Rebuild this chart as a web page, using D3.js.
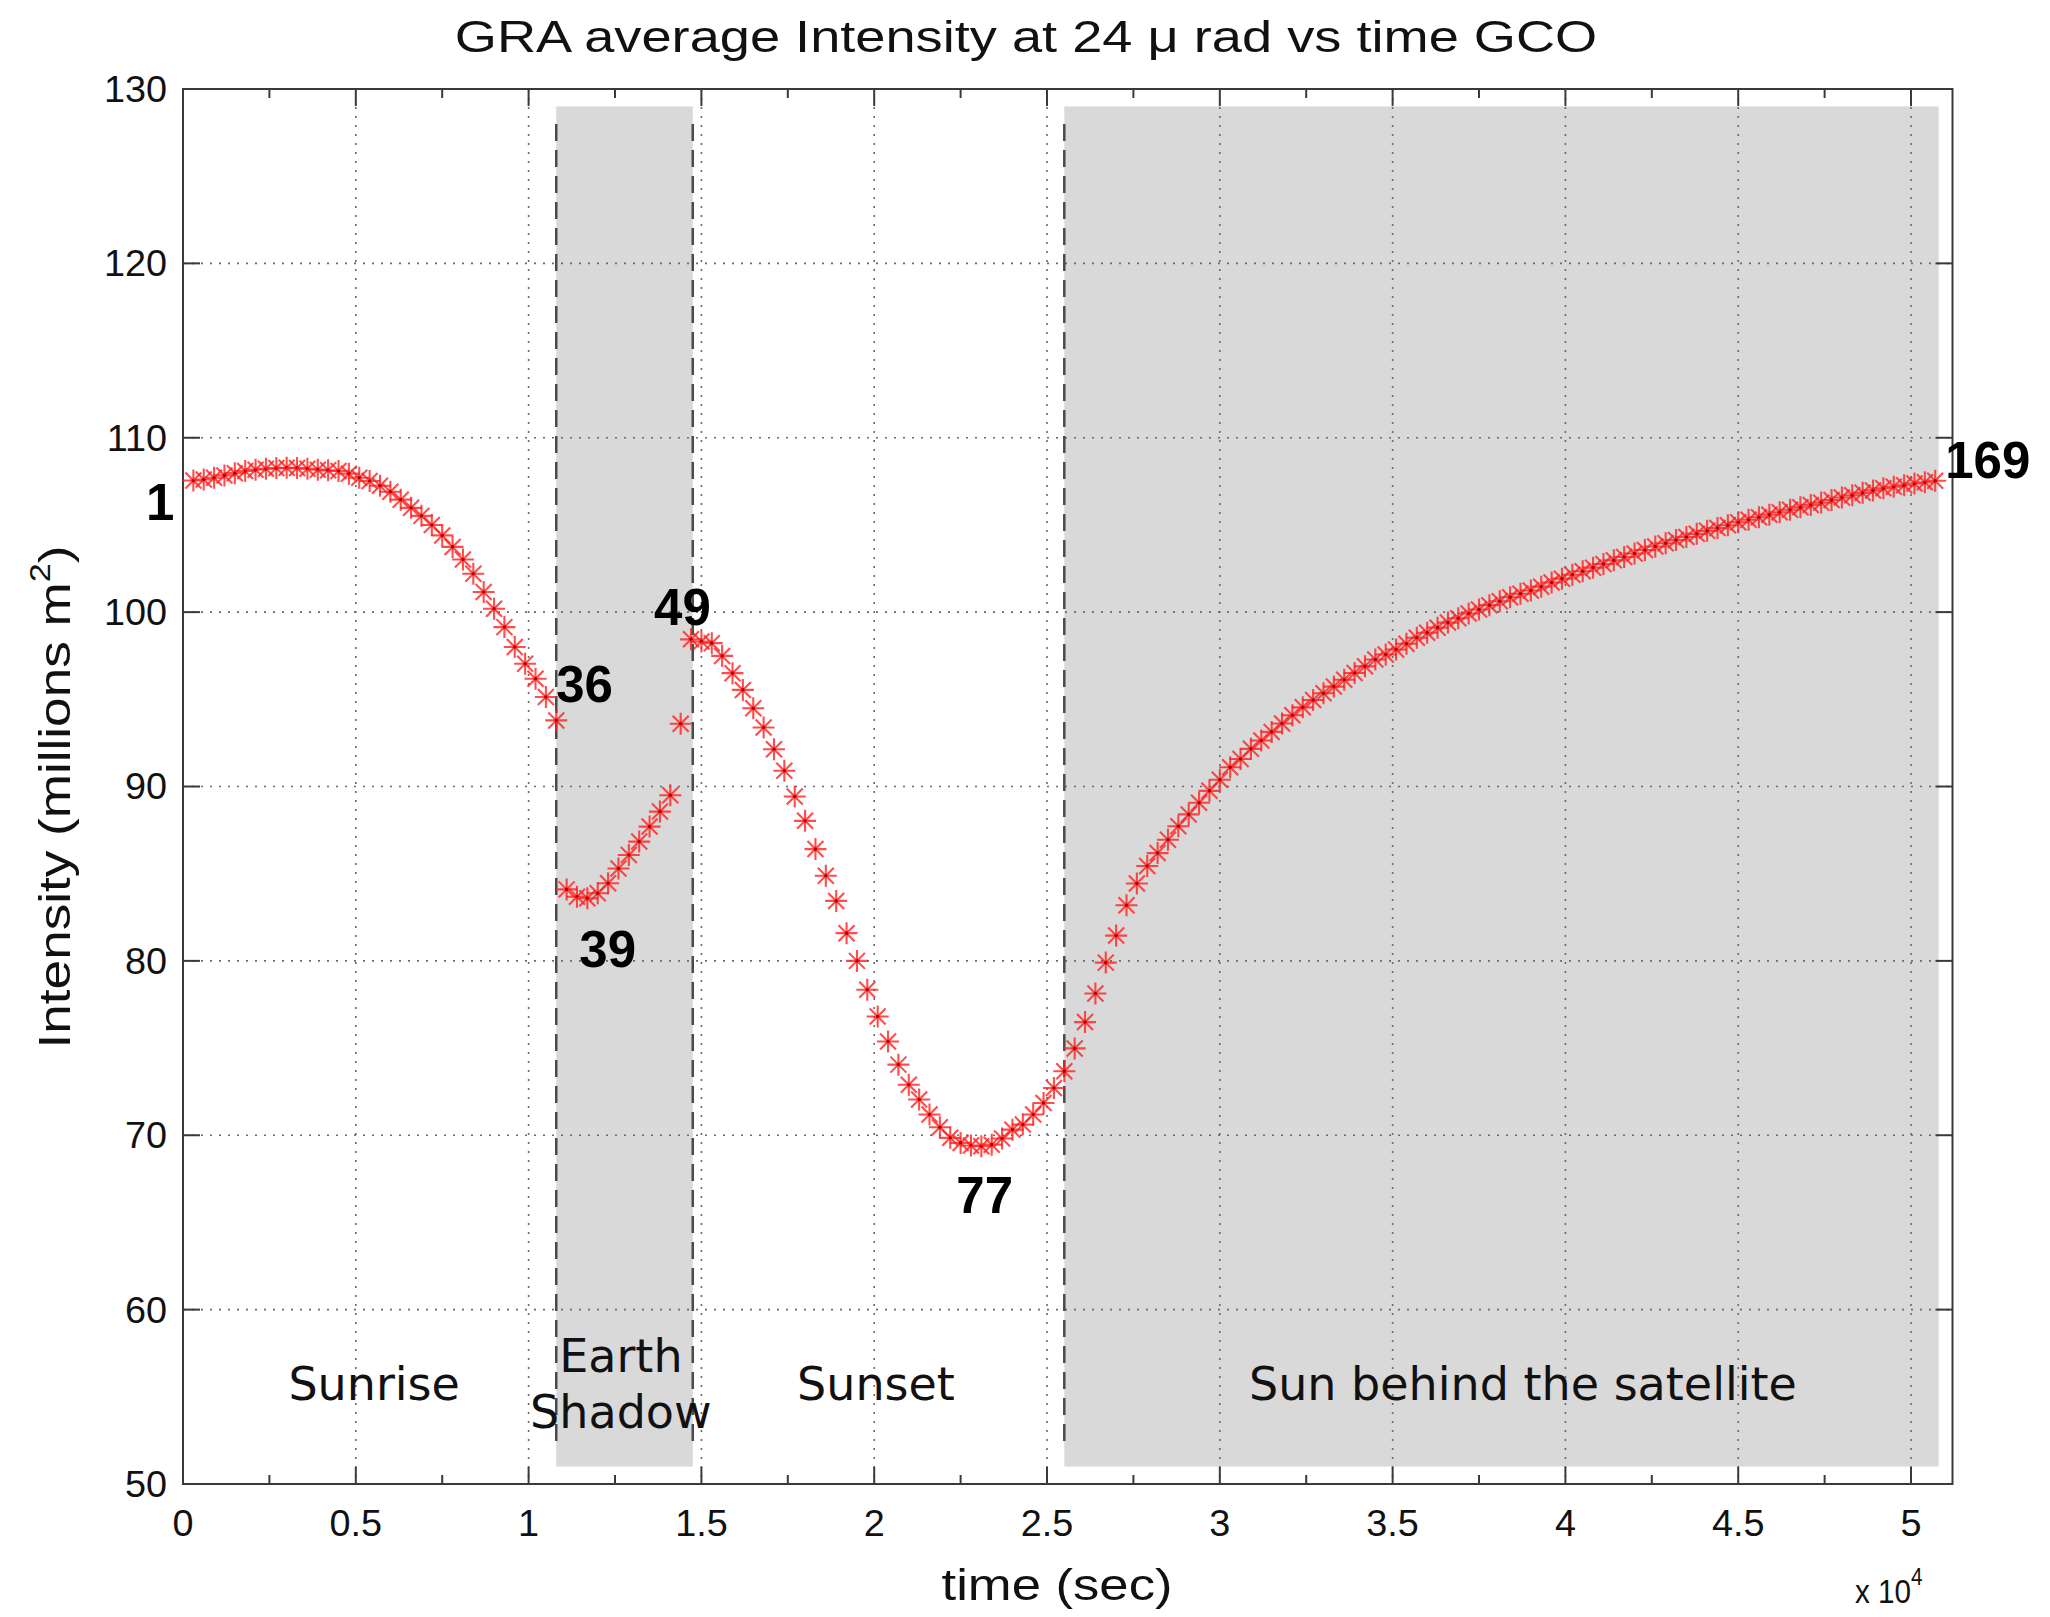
<!DOCTYPE html>
<meta charset="utf-8">
<style>
body { margin: 0; background: #fff; }
svg { display: block; }
.grid line { stroke: #6a6a6a; stroke-width: 1.6; stroke-dasharray: 2,7; }
.tick-label { font-family: "Liberation Sans", Arial, sans-serif; font-size: 36px; fill: #111; }
.region { font-family: "DejaVu Sans", Verdana, sans-serif; font-size: 46px; fill: #111; text-anchor: middle; }
.callout { font-family: "Liberation Sans", Arial, sans-serif; font-size: 51px; font-weight: bold; fill: #000; }
</style>
<body>
<script src="https://d3js.org/d3.v7.min.js"></script>
<script>

// sample spacing (s) and GRA intensity for samples 1..169 (millions m^2)
var dt = 300;
var intensity = [
  107.55, 107.61, 107.71, 107.84, 107.97, 108.09, 108.17, 108.22, 108.26, 108.28,
  108.26, 108.22, 108.17, 108.13, 108.09, 107.94, 107.71, 107.52, 107.25, 106.90,
  106.45, 105.98, 105.52, 105.00, 104.40, 103.74, 103.02, 102.20, 101.15, 100.19,
  99.14, 98.00, 97.04, 96.18, 95.13, 93.79,
  84.10, 83.68, 83.59, 83.88, 84.45, 85.30, 86.07, 86.84, 87.70, 88.56, 89.50, 93.60, 98.44,
  98.31, 98.22, 97.49, 96.50, 95.54, 94.49, 93.38, 92.14, 90.90, 89.43,
  88.03, 86.41, 84.88, 83.44, 81.59, 80.00, 78.34, 76.81, 75.38, 74.05,
  72.90, 72.05, 71.19, 70.46, 69.85, 69.56, 69.41, 69.37, 69.46, 69.81,
  70.32, 70.61, 71.19, 71.85, 72.71, 73.67,
  74.98, 76.49, 78.13, 79.90, 81.45, 83.19, 84.44, 85.44, 86.18, 86.95,
  87.72, 88.40, 89.07, 89.75, 90.39, 91.10, 91.58, 92.16, 92.64, 93.13,
  93.61, 94.09, 94.54, 94.96, 95.35, 95.73, 96.12, 96.51, 96.89, 97.28,
  97.57, 97.86, 98.19, 98.53, 98.82, 99.11, 99.40, 99.65, 99.92, 100.15, 100.40,
  100.62, 100.85, 101.05, 101.24, 101.46, 101.70, 101.92, 102.14, 102.34, 102.55,
  102.76, 102.97, 103.16, 103.36, 103.56, 103.76, 103.95, 104.13, 104.31, 104.49,
  104.66, 104.82, 104.98, 105.15, 105.30, 105.44, 105.59, 105.73, 105.87, 106.01,
  106.15, 106.28, 106.43, 106.57, 106.70, 106.84, 106.98, 107.10, 107.19, 107.28,
  107.38, 107.45, 107.53
];

var xTicks = [0, 0.5, 1, 1.5, 2, 2.5, 3, 3.5, 4, 4.5, 5];
var xTickLabels = ["0", "0.5", "1", "1.5", "2", "2.5", "3", "3.5", "4", "4.5", "5"];
var xMinorTicks = [0.25, 0.75, 1.25, 1.75, 2.25, 2.75, 3.25, 3.75, 4.25, 4.75];
var yTicks = [50, 60, 70, 80, 90, 100, 110, 120, 130];

// shaded phases (x10^4 s) and their vertical extent
var shadeSpans = [[1.08, 1.475], [2.55, 5.08]];
var shadeRange = [51, 129];
var boundaries = [1.08, 1.475, 2.55];

var regionLines = [["Sunrise"], ["Earth", "Shadow"], ["Sunset"], ["Sun behind the satellite"]];
var regionCenters = [0.553, 1.267, 2.005, 3.877];

var callouts = [1, 36, 39, 49, 77, 169];
var calloutOffsets = {
  1: [-19, 40, "end"], 36: [0, -18, "start"], 39: [-8, 69, "start"],
  49: [-37, -14, "start"], 77: [-25, 67, "start"], 169: [10, -3, "start"]
};

var width = 2050, height = 1617;
var x = d3.scaleLinear().domain([0, 5.12]).range([183, 1952.5]);
var y = d3.scaleLinear().domain([50, 130]).range([1484, 89]);

var points = intensity.map(function(v, i) {
  return { n: i + 1, t: (i + 1) * dt / 1e4, v: v };
});

var svg = d3.select("body").append("svg")
    .attr("width", width)
    .attr("height", height);

// gray phases
svg.append("g").selectAll("rect")
    .data(shadeSpans)
  .enter().append("rect")
    .attr("x", function(d) { return x(d[0]); })
    .attr("width", function(d) { return x(d[1]) - x(d[0]); })
    .attr("y", y(shadeRange[1]))
    .attr("height", y(shadeRange[0]) - y(shadeRange[1]))
    .attr("fill", "#d9d9d9");

// dotted grid
var grid = svg.append("g").attr("class", "grid");
grid.selectAll(".gx")
    .data(xTicks.slice(1))
  .enter().append("line")
    .attr("x1", function(d) { return x(d); })
    .attr("x2", function(d) { return x(d); })
    .attr("y1", y(130)).attr("y2", y(50));
grid.selectAll(".gy")
    .data(yTicks.slice(1, -1))
  .enter().append("line")
    .attr("y1", function(d) { return y(d); })
    .attr("y2", function(d) { return y(d); })
    .attr("x1", x(0)).attr("x2", x(5.12));

// dashed phase boundaries
svg.append("g").selectAll("line")
    .data(boundaries)
  .enter().append("line")
    .attr("x1", function(d) { return x(d); })
    .attr("x2", function(d) { return x(d); })
    .attr("y1", y(128)).attr("y2", y(52))
    .attr("stroke", "#4a4a4a")
    .attr("stroke-width", 2.5)
    .attr("stroke-dasharray", "17,9");

// box + inward ticks
var axisColor = "#3a3a3a";
svg.append("rect")
    .attr("x", x(0)).attr("y", y(130))
    .attr("width", x(5.12) - x(0)).attr("height", y(50) - y(130))
    .attr("fill", "none").attr("stroke", axisColor).attr("stroke-width", 2);

var ticks = svg.append("g").attr("stroke", axisColor).attr("stroke-width", 2);
function xTickMarks(data, len) {
  data.forEach(function(d) {
    ticks.append("line").attr("x1", x(d)).attr("x2", x(d)).attr("y1", y(50)).attr("y2", y(50) - len);
    ticks.append("line").attr("x1", x(d)).attr("x2", x(d)).attr("y1", y(130)).attr("y2", y(130) + len);
  });
}
xTickMarks(xTicks, 17);
xTickMarks(xMinorTicks, 9);
yTicks.forEach(function(d) {
  ticks.append("line").attr("y1", y(d)).attr("y2", y(d)).attr("x1", x(0)).attr("x2", x(0) + 17);
  ticks.append("line").attr("y1", y(d)).attr("y2", y(d)).attr("x1", x(5.12)).attr("x2", x(5.12) - 17);
});

// tick labels
svg.append("g").selectAll("text")
    .data(xTicks)
  .enter().append("text")
    .attr("class", "tick-label")
    .attr("text-anchor", "middle")
    .attr("transform", function(d) { return "translate(" + x(d) + ",1536) scale(1.05,1)"; })
    .text(function(d, i) { return xTickLabels[i]; });

svg.append("g").selectAll("text")
    .data(yTicks)
  .enter().append("text")
    .attr("class", "tick-label")
    .attr("text-anchor", "end")
    .attr("dy", "0.36em")
    .attr("transform", function(d) { return "translate(167," + y(d) + ") scale(1.05,1)"; })
    .text(function(d) { return d; });

// region names
regionLines.forEach(function(lines, i) {
  var base = lines.length > 1 ? [56.4, 53.2] : [54.8];
  lines.forEach(function(s, j) {
    svg.append("text")
        .attr("class", "region")
        .attr("x", x(regionCenters[i]))
        .attr("y", y(base[j]))
        .text(s);
  });
});

// asterisk markers
var star = "M-11,0H11M0,-11V11M-8,-8L8,8M-8,8L8,-8";
var marks = svg.append("g").selectAll("g")
    .data(points)
  .enter().append("g")
    .attr("transform", function(d) { return "translate(" + x(d.t) + "," + y(d.v) + ")"; });
marks.append("path")
    .attr("d", star)
    .attr("fill", "none")
    .attr("stroke", "#ff2020")
    .attr("stroke-width", 2.1)
    .attr("stroke-opacity", 0.8);
marks.append("circle")
    .attr("r", 1.8)
    .attr("fill", "#b80000");

// sample number call-outs
svg.append("g").selectAll("text")
    .data(points.filter(function(d) { return callouts.indexOf(d.n) >= 0; }))
  .enter().append("text")
    .attr("class", "callout")
    .attr("x", function(d) { return x(d.t) + calloutOffsets[d.n][0]; })
    .attr("y", function(d) { return y(d.v) + calloutOffsets[d.n][1]; })
    .attr("text-anchor", function(d) { return calloutOffsets[d.n][2]; })
    .text(function(d) { return d.n; });

// stretch a label so it covers the same length as the original
function fitWidth(sel, target) {
  var w = sel.node().getComputedTextLength();
  return target / w;
}

var title = svg.append("text")
    .attr("font-family", "Liberation Sans, Arial, sans-serif")
    .attr("font-size", 45)
    .attr("fill", "#111")
    .attr("text-anchor", "middle")
    .text("GRA average Intensity at 24 \u03bc rad vs time GCO");
title.attr("transform", "translate(1026,52) scale(" + fitWidth(title, 1143) + ",1)");

var xlab = svg.append("text")
    .attr("font-family", "Liberation Sans, Arial, sans-serif")
    .attr("font-size", 45)
    .attr("fill", "#111")
    .attr("text-anchor", "middle")
    .text("time (sec)");
xlab.attr("transform", "translate(1057,1600) scale(" + fitWidth(xlab, 231) + ",1)");

var ylab = svg.append("text")
    .attr("font-family", "Liberation Sans, Arial, sans-serif")
    .attr("font-size", 45)
    .attr("fill", "#111")
    .attr("text-anchor", "middle");
ylab.append("tspan").text("Intensity (millions m");
ylab.append("tspan").attr("font-size", 29).attr("dy", -20).text("2");
ylab.append("tspan").attr("dy", 20).text(")");
var ylen = ylab.node().getComputedTextLength();
ylab.attr("transform", "translate(70,797) rotate(-90) scale(" + (503 / ylen) + ",1)");

var exp = svg.append("text")
    .attr("font-family", "Liberation Sans, Arial, sans-serif")
    .attr("font-size", 33)
    .attr("fill", "#111");
exp.append("tspan").text("x 10");
exp.append("tspan").attr("font-size", 23).attr("dy", -18).text("4");
exp.attr("transform", "translate(1855,1603) scale(0.9,1)");

</script>
</body>
